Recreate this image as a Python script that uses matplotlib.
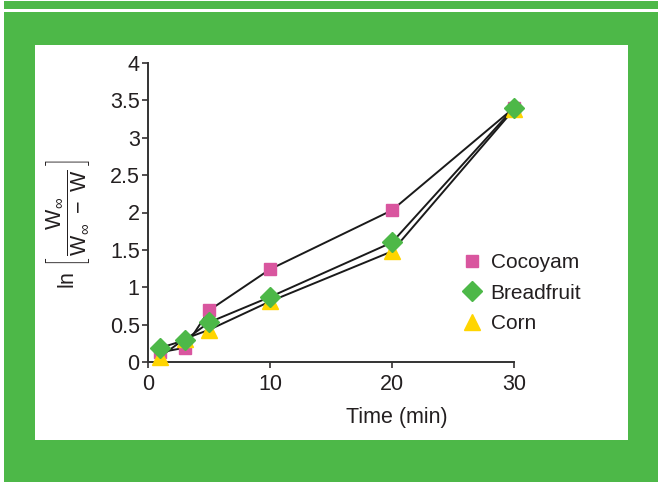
import matplotlib
matplotlib.use("Agg")
import matplotlib.pyplot as plt
from matplotlib.lines import Line2D
from matplotlib.patches import Rectangle

# Chart data
times = [1, 3, 5, 10, 20, 30]
cocoyam = [0.13, 0.19, 0.69, 1.24, 2.03, 3.40]
breadfruit = [0.19, 0.29, 0.53, 0.87, 1.60, 3.40]
corn = [0.07, 0.31, 0.43, 0.81, 1.48, 3.38]
series_names = ["Cocoyam", "Breadfruit", "Corn"]

x_ticks = [0, 10, 20, 30]
y_ticks = [0, 0.5, 1, 1.5, 2, 2.5, 3, 3.5, 4]
y_tick_labels = ["0", "0.5", "1", "1.5", "2", "2.5", "3", "3.5", "4"]

# Colours
green = "#4db848"
pink = "#d9569f"
yellow = "#ffd500"
ink = "#231f20"

width = 658
height = 482
dpi = 100

plt.rcParams["font.family"] = ["Liberation Sans", "DejaVu Sans"]
plt.rcParams["mathtext.fontset"] = "custom"
plt.rcParams["mathtext.rm"] = "Liberation Sans"
plt.rcParams["mathtext.it"] = "Liberation Sans"


def px_rect(fig, x0, y0, x1, y1, color):
  # rectangle given in pixel coords measured from the top left
  fig.patches.append(Rectangle((x0 / width, 1 - y1 / height), (x1 - x0) / width, (y1 - y0) / height,
                               transform=fig.transFigure, facecolor=color, edgecolor="none", zorder=-5))


fig = plt.figure(figsize=(width / dpi, height / dpi), dpi=dpi)
fig.patch.set_facecolor(green)

# Frame: white edges and the white plot panel
px_rect(fig, 0, 0, 4, height, "white")
px_rect(fig, 0, 0, width, 1, "white")
px_rect(fig, 0, 9, width, 11.5, "white")
px_rect(fig, 35, 45, 628, 440, "white")

ax = fig.add_axes([148 / width, 1 - 362 / height, 366 / width, 299 / height])
ax.set_facecolor("none")
ax.set_zorder(5)

# Lines first, markers on top
for vals in [cocoyam, breadfruit, corn]:
  ax.plot(times, vals, color="#1a1a1a", linewidth=1.4, zorder=2, clip_on=False)

ax.plot(times, cocoyam, linestyle="none", marker="s", markersize=9.2, color=pink, zorder=3, clip_on=False)
ax.plot(times, corn, linestyle="none", marker="^", markersize=12, color=yellow, zorder=4, clip_on=False)
ax.plot(times, breadfruit, linestyle="none", marker="D", markersize=10, color=green, zorder=5, clip_on=False)

ax.set_xlim(0, 30)
ax.set_ylim(0, 4)
ax.set_xticks(x_ticks)
ax.set_yticks(y_ticks)
ax.set_yticklabels(y_tick_labels)
ax.tick_params(axis="both", labelsize=15.5, colors=ink, width=1.1, length=4)
ax.tick_params(axis="x", pad=5)
ax.tick_params(axis="y", pad=2)

for side in ["top", "right"]:
  ax.spines[side].set_visible(False)
for side in ["left", "bottom"]:
  ax.spines[side].set_color("#333333")
  ax.spines[side].set_linewidth(1.4)

ax.set_xlabel("Time (min)", fontsize=15.5, color=ink, va="center")
ax.xaxis.set_label_coords(0.68, -0.187)
ax.set_ylabel(r"$\ln\,\left[\,\dfrac{W_{\infty}}{W_{\infty}\ -\ W}\,\right]$", fontsize=15.5, color=ink, va="center")
ax.yaxis.set_label_coords(-0.219, 0.46)

# Legend with marker only handles
handles = [
  Line2D([], [], linestyle="none", marker="s", markersize=9.2, color=pink),
  Line2D([], [], linestyle="none", marker="D", markersize=10, color=green),
  Line2D([], [], linestyle="none", marker="^", markersize=12, color=yellow),
]
ax.legend(handles, series_names, loc="center left", bbox_to_anchor=(0.856, 0.23), frameon=False,
          fontsize=15, handlelength=1.0, handletextpad=0.41, labelspacing=0.54,
          borderpad=0, borderaxespad=0, labelcolor=ink)

fig.savefig("out.png", dpi=dpi, facecolor=fig.get_facecolor())
plt.close(fig)
